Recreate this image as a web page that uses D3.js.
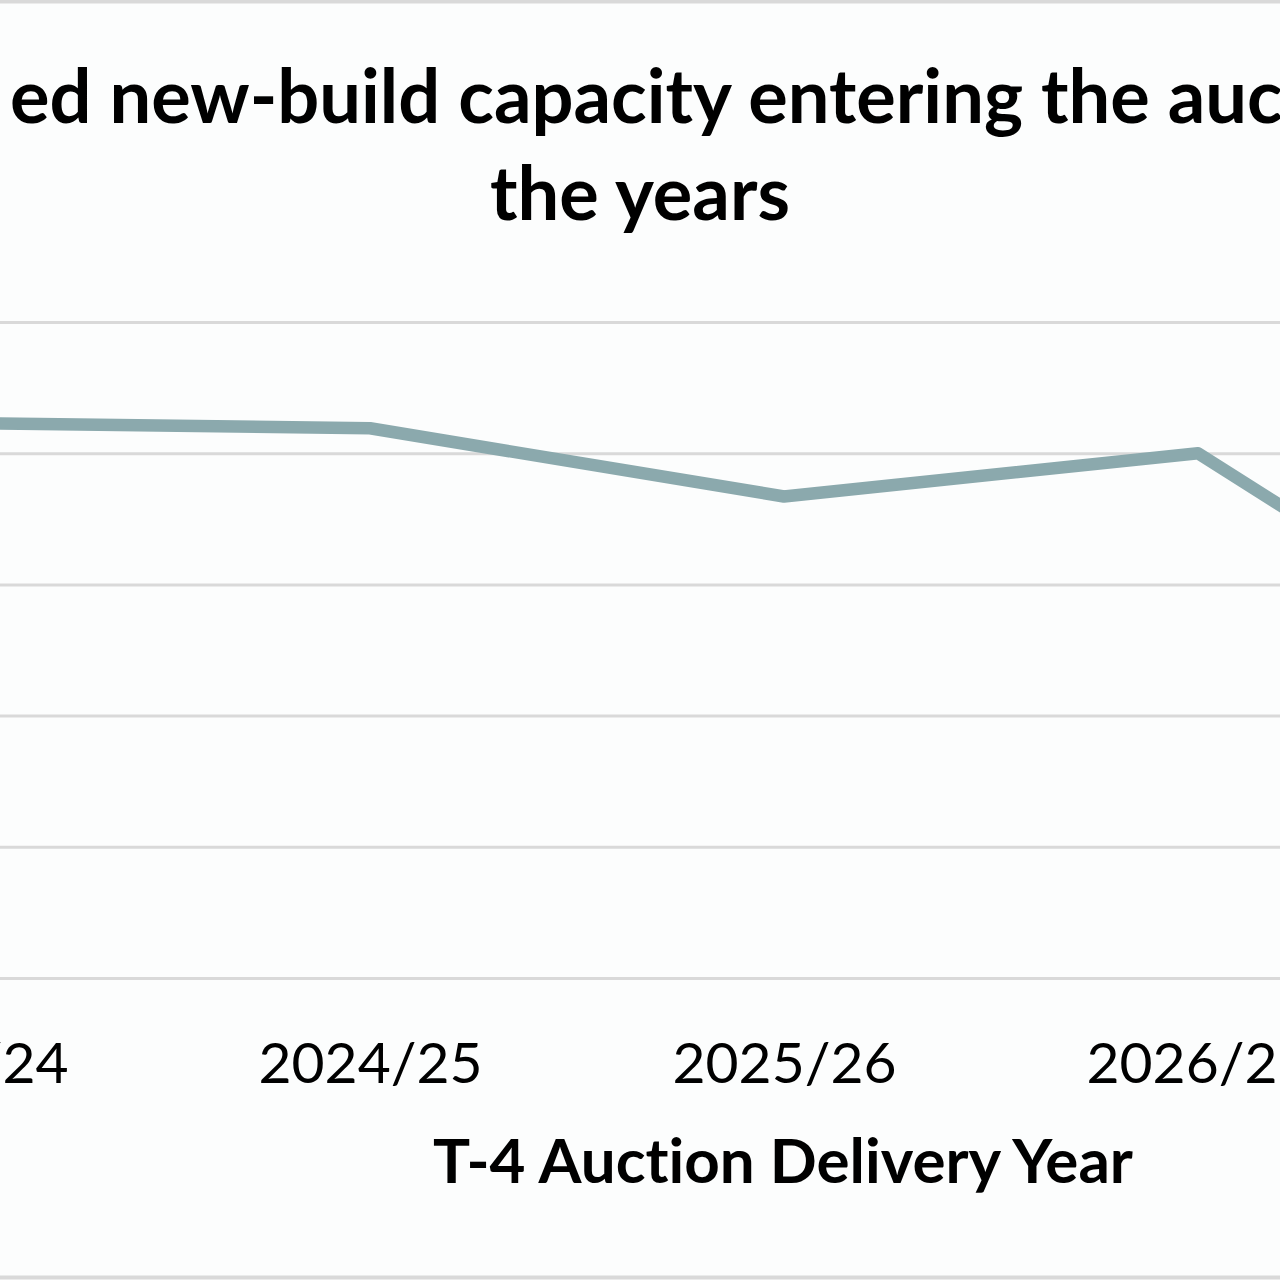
<!DOCTYPE html>
<html>
<head>
<meta charset="utf-8">
<script src="https://cdn.jsdelivr.net/npm/d3@7"></script>
<style>
  html, body { margin: 0; padding: 0; background: #fcfdfd; overflow: hidden; }
  svg { display: block; }
  text { font-variant-ligatures: none; }
</style>
</head>
<body>
<div data-output></div>
<script>
// chart data
const years = ['2023/24', '2024/25', '2025/26', '2026/27', '2027/28'];
const share = [42.3, 41.9, 36.7, 40.0, 20.0];
const yTicks = [0, 10, 20, 30, 40, 50];

const titlePrefix = 'Unconfirm';
const titleRest = 'ed new-build capacity entering the auction over';
const titleLine2 = 'the years';
const xTitle = 'T-4 Auction Delivery Year';

const SIZE = { WIDTH: 1280, HEIGHT: 1280 };
const FONT = 'Lato, "Open Sans", "DejaVu Sans", sans-serif';

// the picture is a crop: the plot runs off both sides of the frame
const x = d3.scalePoint().domain(years).range([-44, 1612]);
const y = d3.scaleLinear().domain([0, 50]).range([978, 322]);

const svg = d3.select('[data-output]').append('svg')
  .attr('width', SIZE.WIDTH)
  .attr('height', SIZE.HEIGHT);

svg.append('rect')
  .attr('width', SIZE.WIDTH).attr('height', SIZE.HEIGHT)
  .attr('fill', '#fcfdfd');

// frame
svg.append('rect')
  .attr('x', -10).attr('y', 1.5)
  .attr('width', SIZE.WIDTH + 20).attr('height', SIZE.HEIGHT - 4)
  .attr('fill', 'none').attr('stroke', '#d9d9d9').attr('stroke-width', 4);

// gridlines (the value labels sit outside the crop, so none are drawn)
const grid = svg.append('g')
  .attr('transform', 'translate(-260,0)')
  .call(d3.axisLeft(y).tickValues(yTicks).tickSize(-2100).tickFormat(''));
grid.select('.domain').remove();
grid.selectAll('.tick text').remove();
grid.selectAll('.tick line').attr('stroke', '#d9d9d9').attr('stroke-width', 3);

// x axis labels
const xAxis = svg.append('g')
  .attr('transform', 'translate(0,978)')
  .call(d3.axisBottom(x).tickSize(0).tickPadding(0));
xAxis.select('.domain').remove();
xAxis.selectAll('.tick text')
  .attr('font-family', FONT)
  .attr('font-size', 60)
  .attr('fill', '#000')
  .attr('dy', null)
  .attr('y', 105);

// fit font size to the reference widths
function fit(sel, target) {
  const w = sel.node().getComputedTextLength();
  const fs = parseFloat(sel.attr('font-size'));
  sel.attr('font-size', fs * target / w);
}
const sample = xAxis.selectAll('.tick text').filter(d => d === '2024/25');
const tickFs = 60 * 224 / sample.node().getComputedTextLength();
xAxis.selectAll('.tick text').attr('font-size', tickFs);

// the line
const valueLine = d3.line()
  .x((d, i) => x(years[i]))
  .y(d => y(d));

svg.append('path')
  .datum(share)
  .attr('d', valueLine)
  .attr('fill', 'none')
  .attr('stroke', '#8ba9ad')
  .attr('stroke-width', 12.5)
  .attr('stroke-linejoin', 'round');

// axis title
const xt = svg.append('text')
  .attr('x', 783).attr('y', 1183)
  .attr('text-anchor', 'middle')
  .attr('font-family', FONT).attr('font-weight', 'bold')
  .attr('font-size', 62)
  .text(xTitle);
fit(xt, 700);

// chart title
const t2 = svg.append('text')
  .attr('x', 640).attr('y', 220)
  .attr('text-anchor', 'middle')
  .attr('font-family', FONT).attr('font-weight', 'bold')
  .attr('font-size', 76)
  .text(titleLine2);
fit(t2, 300);
const titleFs = t2.attr('font-size');

// line 1 is cropped: "ed new-build" starts just inside the left edge
const probe = svg.append('text')
  .attr('font-family', FONT).attr('font-weight', 'bold')
  .attr('font-size', titleFs)
  .text(titlePrefix);
const prefixW = probe.node().getComputedTextLength();
probe.remove();

const gap = 40;
const t1 = svg.append('text')
  .attr('x', 10 - gap - prefixW).attr('y', 123)
  .attr('font-family', FONT).attr('font-weight', 'bold')
  .attr('font-size', titleFs);
t1.append('tspan').text(titlePrefix);
t1.append('tspan').attr('dx', gap).text(titleRest);
</script>
</body>
</html>
